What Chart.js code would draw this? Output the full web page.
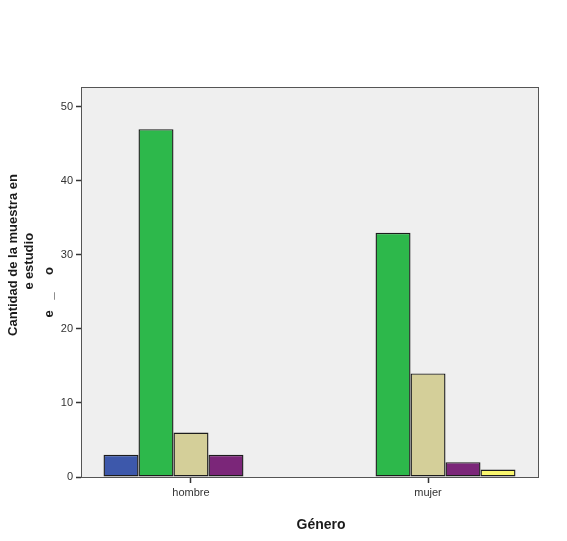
<!DOCTYPE html>
<html>
<head>
<meta charset="utf-8">
<script src="https://cdn.jsdelivr.net/npm/chart.js@4/dist/chart.umd.min.js"></script>
<style>
    html, body { margin: 0; padding: 0; background: #fff; }
    #wrap { width: 567px; height: 541px; }
</style>
</head>
<body>
<div id="wrap"><canvas id="chart"></canvas></div>
<script>
const categories = ["hombre", "mujer"];
const yTicks = [0, 10, 20, 30, 40, 50];

// one array per series, values for hombre / mujer
const serie1 = [3, 0];
const serie2 = [47, 33];
const serie3 = [6, 14];
const serie4 = [3, 2];
const serie5 = [0, 1];

const seriesValues = [serie1, serie2, serie3, serie4, serie5];
const seriesColors = ["#3d58ab", "#2db84b", "#d4cf99", "#7b2679", "#f9f66e"];

const datasets = seriesValues.map((vals, i) => ({
    label: "serie " + (i + 1),
    data: vals.map((v, j) => ({ x: j, y: v === 0 ? null : v })),
    backgroundColor: seriesColors[i],
    borderColor: "#1c1c1c",
    borderWidth: 1.4,
    borderSkipped: false,
    inflateAmount: 0,
    barPercentage: 1,
    categoryPercentage: 0.738,
}));

const plotFrame = {
    id: "plotFrame",
    beforeDatasetsDraw(chart) {
        const { ctx, chartArea: a } = chart;
        ctx.save();
        ctx.fillStyle = "#efefef";
        ctx.fillRect(a.left, a.top, a.right - a.left, a.bottom - a.top);
        ctx.restore();
    },
    afterDraw(chart) {
        const { ctx, chartArea: a } = chart;
        ctx.save();
        ctx.strokeStyle = "#555";
        ctx.lineWidth = 1;
        ctx.strokeRect(Math.round(a.left) + 0.5, Math.round(a.top) + 0.5,
            Math.round(a.right - a.left), Math.round(a.bottom - a.top));

        ctx.fillStyle = "#1a1a1a";
        ctx.font = "bold 14px Arial, 'Liberation Sans', sans-serif";
        ctx.textAlign = "center";
        ctx.textBaseline = "middle";
        ctx.fillText("Género", 321, 525);

        // y title (garbled like the original)
        ctx.font = "bold 13px Arial, 'Liberation Sans', sans-serif";
        ctx.textBaseline = "alphabetic";
        const put = (txt, x, y) => {
            ctx.save();
            ctx.translate(x, y);
            ctx.rotate(-Math.PI / 2);
            ctx.fillText(txt, 0, 0);
            ctx.restore();
        };
        put("Cantidad de la muestra en", 17, 255);
        put("estudio", 33, 256);
        put("e", 33, 286);
        put("o", 53, 271);
        put("_", 53, 296);
        put("e", 53, 314);
        ctx.restore();
    }
};

new Chart(document.getElementById("chart"), {
    type: "bar",
    data: { datasets },
    options: {
        responsive: true,
        maintainAspectRatio: false,
        animation: false,
        layout: { padding: { top: 87, right: 29, left: 0, bottom: 0 } },
        plugins: {
            legend: { display: false },
            tooltip: { enabled: false },
        },
        scales: {
            x: {
                type: "linear",
                min: -0.464,
                max: 1.464,
                offset: false,
                afterFit: (s) => { s.height = 64; },
                afterBuildTicks: (s) => { s.ticks = categories.map((c, i) => ({ value: i })); },
                ticks: {
                    callback: (v) => categories[v],
                    color: "#333",
                    font: { family: "Arial, 'Liberation Sans', sans-serif", size: 11 },
                    padding: 3,
                    maxRotation: 0,
                },
                grid: { drawOnChartArea: false, offset: false, tickLength: 6, color: "#333", tickWidth: 1.5 },
                border: { color: "#555" },
            },
            y: {
                min: 0,
                max: 52.7,
                afterFit: (s) => { s.width = 81; },
                afterBuildTicks: (s) => { s.ticks = yTicks.map(v => ({ value: v })); },
                ticks: {
                    color: "#333",
                    font: { family: "Arial, 'Liberation Sans', sans-serif", size: 11 },
                    padding: 3,
                },
                grid: { drawOnChartArea: false, tickLength: 5, color: "#333", tickWidth: 1.5 },
                border: { color: "#555" },
            },
        },
    },
    plugins: [plotFrame],
});
</script>
</body>
</html>
